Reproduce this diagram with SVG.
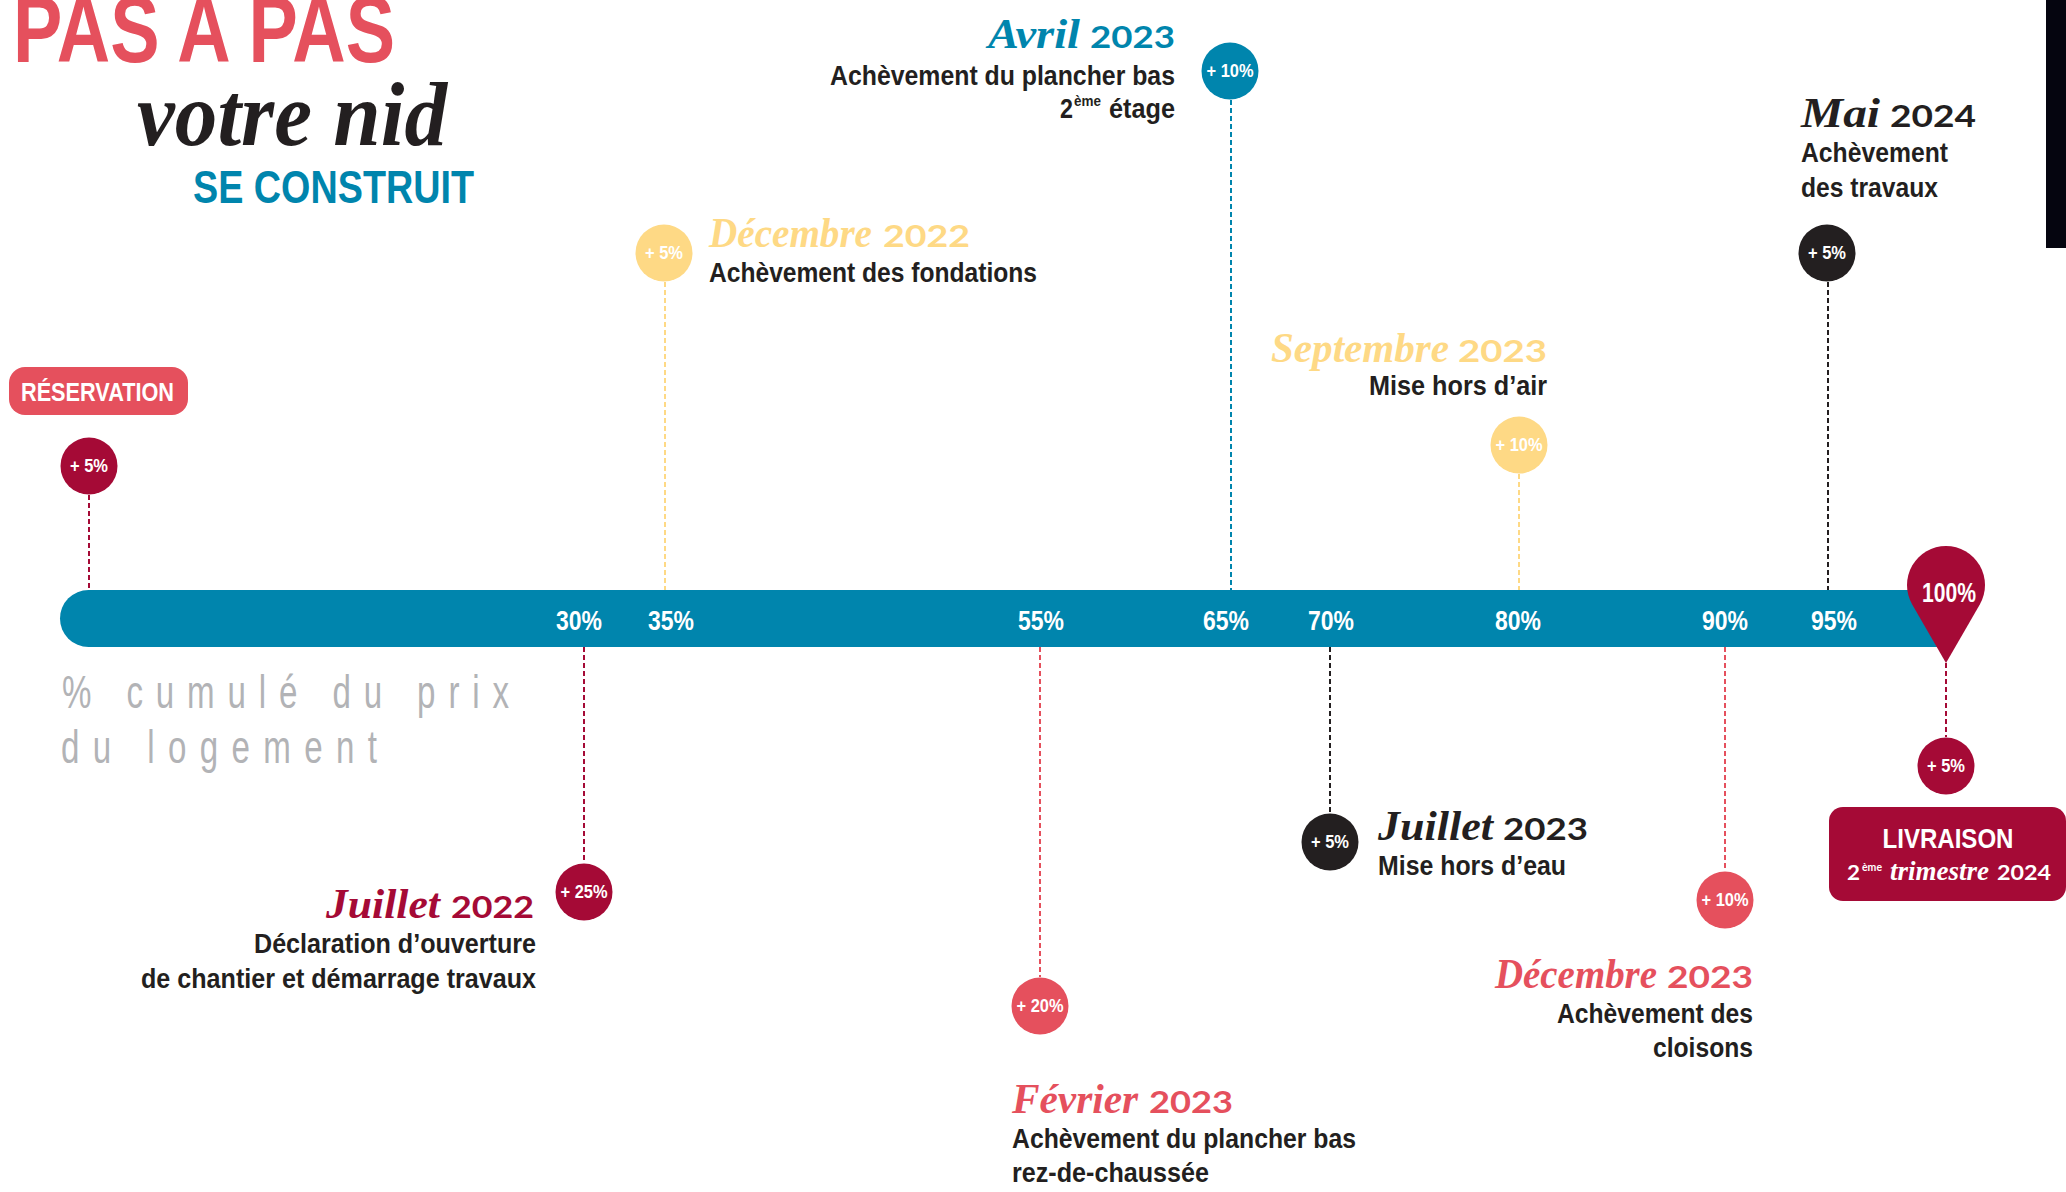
<svg xmlns="http://www.w3.org/2000/svg" width="2066" height="1192" viewBox="0 0 2066 1192">
<style>
.c{font-family:"Liberation Sans",Arial,sans-serif;font-weight:bold}
.s{font-family:"Liberation Serif","DejaVu Serif",serif;font-style:italic;font-weight:bold}
.n{font-family:Lato,"Noto Sans",sans-serif;font-weight:bold}
.dl{font-size:27px;fill:#231f20}
.cl{font-size:18px;fill:#fff;text-anchor:middle}
.bl{font-size:28px;fill:#fff;text-anchor:middle}
.hs{font-size:42px}
.hn{font-size:31px}
.d{stroke-width:2;stroke-dasharray:5 3;fill:none}
.crim{fill:#a50a36}.coral{fill:#e5505d}.blue{fill:#0085ad}.yel{fill:#fed985}.blk{fill:#231f20}
</style>
<rect x="2046" y="0" width="20" height="248" fill="#05050f"/>
<g id="title">
<text class="c" x="13" y="62" font-size="95" fill="#e5505d" textLength="382" lengthAdjust="spacingAndGlyphs">PAS A PAS</text>
<text class="s" x="137" y="145" font-size="92" fill="#231f20" textLength="310" lengthAdjust="spacingAndGlyphs">votre nid</text>
<text class="c" x="193" y="203" font-size="47" fill="#0085ad" textLength="281" lengthAdjust="spacingAndGlyphs">SE CONSTRUIT</text>
</g>
<g id="bar">
<path d="M88.5 590 H1946 V647 H88.5 A28.5 28.5 0 0 1 88.5 590 Z" fill="#0085ad"/>
<text class="c bl" x="579" y="630" textLength="46" lengthAdjust="spacingAndGlyphs">30%</text>
<text class="c bl" x="671" y="630" textLength="46" lengthAdjust="spacingAndGlyphs">35%</text>
<text class="c bl" x="1041" y="630" textLength="46" lengthAdjust="spacingAndGlyphs">55%</text>
<text class="c bl" x="1226" y="630" textLength="46" lengthAdjust="spacingAndGlyphs">65%</text>
<text class="c bl" x="1331" y="630" textLength="46" lengthAdjust="spacingAndGlyphs">70%</text>
<text class="c bl" x="1518" y="630" textLength="46" lengthAdjust="spacingAndGlyphs">80%</text>
<text class="c bl" x="1725" y="630" textLength="46" lengthAdjust="spacingAndGlyphs">90%</text>
<text class="c bl" x="1834" y="630" textLength="46" lengthAdjust="spacingAndGlyphs">95%</text>
</g>
<g id="axis-caption" font-family="'Liberation Sans',Arial,sans-serif" font-size="46" fill="#b2b3b6">
<text transform="translate(62 708) scale(0.72 1)" textLength="621" lengthAdjust="spacing">% cumulé du prix</text>
<text transform="translate(61 763) scale(0.72 1)" textLength="439" lengthAdjust="spacing">du logement</text>
</g>
<g id="connectors">
<line class="d" x1="89" y1="495" x2="89" y2="590" stroke="#a50a36"/>
<line class="d" x1="665" y1="282" x2="665" y2="590" stroke="#fed985"/>
<line class="d" x1="1231" y1="100" x2="1231" y2="590" stroke="#0085ad"/>
<line class="d" x1="1519" y1="474" x2="1519" y2="590" stroke="#fed985"/>
<line class="d" x1="1828" y1="282" x2="1828" y2="590" stroke="#231f20"/>
<line class="d" x1="584" y1="647" x2="584" y2="863" stroke="#a50a36"/>
<line class="d" x1="1040" y1="647" x2="1040" y2="977" stroke="#e5505d"/>
<line class="d" x1="1330" y1="647" x2="1330" y2="813" stroke="#231f20"/>
<line class="d" x1="1725" y1="647" x2="1725" y2="871" stroke="#e5505d"/>
<line class="d" x1="1946" y1="663" x2="1946" y2="737" stroke="#a50a36"/>
</g>
<g id="reservation">
<rect x="9" y="367" width="179" height="48" rx="16" fill="#e5505d"/>
<text class="c" x="21" y="401" font-size="26" fill="#fff" textLength="153" lengthAdjust="spacingAndGlyphs">RÉSERVATION</text>
<circle cx="89" cy="466" r="28.5" class="crim"/>
<text class="c cl" x="89" y="472" textLength="38" lengthAdjust="spacingAndGlyphs">+ 5%</text>
</g>
<g id="juillet-2022">
<circle cx="584" cy="892" r="28.5" class="crim"/>
<text class="c cl" x="584" y="898" textLength="47" lengthAdjust="spacingAndGlyphs">+ 25%</text>
<text class="s hs crim" x="326" y="918" textLength="114" lengthAdjust="spacingAndGlyphs">Juillet</text>
<text class="n hn crim" x="451" y="918" textLength="83" lengthAdjust="spacingAndGlyphs">2022</text>
<text class="c dl" x="536" y="953" text-anchor="end" textLength="282" lengthAdjust="spacingAndGlyphs">Déclaration d’ouverture</text>
<text class="c dl" x="536" y="988" text-anchor="end" textLength="395" lengthAdjust="spacingAndGlyphs">de chantier et démarrage travaux</text>
</g>
<g id="decembre-2022">
<circle cx="664" cy="253" r="28.5" class="yel"/>
<text class="c cl" x="664" y="259" textLength="38" lengthAdjust="spacingAndGlyphs">+ 5%</text>
<text class="s hs yel" x="709" y="247" textLength="163" lengthAdjust="spacingAndGlyphs">Décembre</text>
<text class="n hn yel" x="883" y="247" textLength="87" lengthAdjust="spacingAndGlyphs">2022</text>
<text class="c dl" x="709" y="282" textLength="328" lengthAdjust="spacingAndGlyphs">Achèvement des fondations</text>
</g>
<g id="fevrier-2023">
<circle cx="1040" cy="1006" r="28.5" class="coral"/>
<text class="c cl" x="1040" y="1012" textLength="47" lengthAdjust="spacingAndGlyphs">+ 20%</text>
<text class="s hs coral" x="1012" y="1113" textLength="126" lengthAdjust="spacingAndGlyphs">Février</text>
<text class="n hn coral" x="1149" y="1113" textLength="84" lengthAdjust="spacingAndGlyphs">2023</text>
<text class="c dl" x="1012" y="1148" textLength="344" lengthAdjust="spacingAndGlyphs">Achèvement du plancher bas</text>
<text class="c dl" x="1012" y="1182" textLength="197" lengthAdjust="spacingAndGlyphs">rez-de-chaussée</text>
</g>
<g id="avril-2023">
<circle cx="1230" cy="71" r="28.5" class="blue"/>
<text class="c cl" x="1230" y="77" textLength="47" lengthAdjust="spacingAndGlyphs">+ 10%</text>
<text class="s hs blue" x="988" y="48" textLength="92" lengthAdjust="spacingAndGlyphs">Avril</text>
<text class="n hn blue" x="1090" y="48" textLength="85" lengthAdjust="spacingAndGlyphs">2023</text>
<text class="c dl" x="1175" y="85" text-anchor="end" textLength="345" lengthAdjust="spacingAndGlyphs">Achèvement du plancher bas</text>
<text class="c dl" x="1060" y="118" textLength="13" lengthAdjust="spacingAndGlyphs">2</text>
<text class="c" x="1074" y="106" font-size="15" fill="#231f20" textLength="27" lengthAdjust="spacingAndGlyphs">ème</text>
<text class="c dl" x="1109" y="118" textLength="66" lengthAdjust="spacingAndGlyphs">étage</text>
</g>
<g id="juillet-2023">
<circle cx="1330" cy="842" r="28.5" class="blk"/>
<text class="c cl" x="1330" y="848" textLength="38" lengthAdjust="spacingAndGlyphs">+ 5%</text>
<text class="s hs blk" x="1378" y="840" textLength="115" lengthAdjust="spacingAndGlyphs">Juillet</text>
<text class="n hn blk" x="1503" y="840" textLength="85" lengthAdjust="spacingAndGlyphs">2023</text>
<text class="c dl" x="1378" y="875" textLength="188" lengthAdjust="spacingAndGlyphs">Mise hors d’eau</text>
</g>
<g id="septembre-2023">
<circle cx="1519" cy="445" r="28.5" class="yel"/>
<text class="c cl" x="1519" y="451" textLength="47" lengthAdjust="spacingAndGlyphs">+ 10%</text>
<text class="s hs yel" x="1271" y="362" textLength="178" lengthAdjust="spacingAndGlyphs">Septembre</text>
<text class="n hn yel" x="1458" y="362" textLength="89" lengthAdjust="spacingAndGlyphs">2023</text>
<text class="c dl" x="1547" y="395" text-anchor="end" textLength="178" lengthAdjust="spacingAndGlyphs">Mise hors d’air</text>
</g>
<g id="decembre-2023">
<circle cx="1725" cy="900" r="28.5" class="coral"/>
<text class="c cl" x="1725" y="906" textLength="47" lengthAdjust="spacingAndGlyphs">+ 10%</text>
<text class="s hs coral" x="1495" y="988" textLength="162" lengthAdjust="spacingAndGlyphs">Décembre</text>
<text class="n hn coral" x="1667" y="988" textLength="86" lengthAdjust="spacingAndGlyphs">2023</text>
<text class="c dl" x="1753" y="1023" text-anchor="end" textLength="196" lengthAdjust="spacingAndGlyphs">Achèvement des</text>
<text class="c dl" x="1753" y="1057" text-anchor="end" textLength="100" lengthAdjust="spacingAndGlyphs">cloisons</text>
</g>
<g id="mai-2024">
<circle cx="1827" cy="253" r="28.5" class="blk"/>
<text class="c cl" x="1827" y="259" textLength="38" lengthAdjust="spacingAndGlyphs">+ 5%</text>
<text class="s hs blk" x="1801" y="127" textLength="79" lengthAdjust="spacingAndGlyphs">Mai</text>
<text class="n hn blk" x="1890" y="127" textLength="86" lengthAdjust="spacingAndGlyphs">2024</text>
<text class="c dl" x="1801" y="162" textLength="147" lengthAdjust="spacingAndGlyphs">Achèvement</text>
<text class="c dl" x="1801" y="197" textLength="137" lengthAdjust="spacingAndGlyphs">des travaux</text>
</g>
<g id="livraison">
<path d="M1946 663 L1912.2 604.5 A39 39 0 1 1 1979.8 604.5 Z" class="crim"/>
<text class="c" x="1949" y="602" font-size="27" fill="#fff" text-anchor="middle" textLength="54" lengthAdjust="spacingAndGlyphs">100%</text>
<circle cx="1946" cy="766" r="28.5" class="crim"/>
<text class="c cl" x="1946" y="772" textLength="38" lengthAdjust="spacingAndGlyphs">+ 5%</text>
<rect x="1829" y="807" width="237" height="94" rx="14" class="crim"/>
<text class="c" x="1948" y="848" font-size="28" fill="#fff" text-anchor="middle" textLength="131" lengthAdjust="spacingAndGlyphs">LIVRAISON</text>
<text class="n" x="1847" y="880" font-size="20" fill="#fff" textLength="13" lengthAdjust="spacingAndGlyphs">2</text>
<text class="n" x="1862" y="871" font-size="11" fill="#fff" textLength="20" lengthAdjust="spacingAndGlyphs">ème</text>
<text class="s" x="1890" y="880" font-size="27" fill="#fff" textLength="99" lengthAdjust="spacingAndGlyphs">trimestre</text>
<text class="n" x="1997" y="880" font-size="20" fill="#fff" textLength="54" lengthAdjust="spacingAndGlyphs">2024</text>
</g>
</svg>
